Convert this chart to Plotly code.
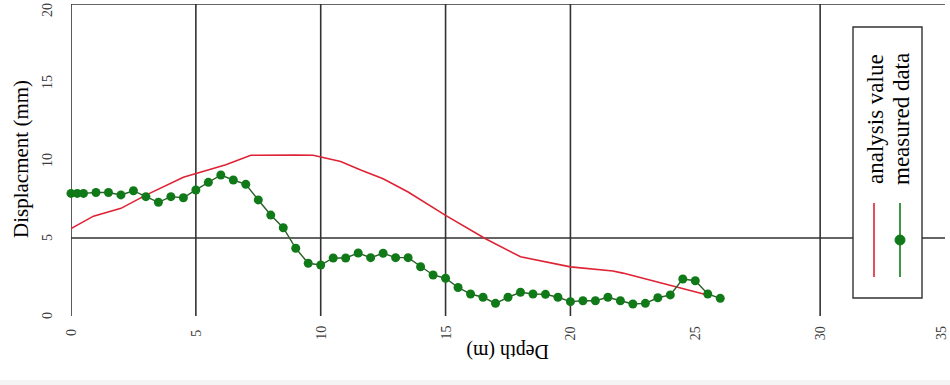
import plotly.graph_objects as go

# Analysis result along depth
analysis_depth = [0.0, 0.9, 2.0, 3.0, 4.5, 5.0, 6.2, 7.2, 8.0, 9.0, 9.7, 10.8, 11.6, 12.5,
                  13.5, 15.0, 16.6, 18.0, 20.0, 21.7, 22.1, 24.1, 25.3, 25.6]
analysis_disp = [5.6, 6.4, 6.9, 7.75, 8.9, 9.15, 9.7, 10.3, 10.32, 10.32, 10.3, 9.9, 9.36, 8.8,
                 7.95, 6.45, 4.95, 3.8, 3.15, 2.88, 2.75, 1.9, 1.4, 1.3]

# Inclinometer readings
measured_depth = [0.0, 0.25, 0.5, 1.0, 1.5, 2.0, 2.5, 3.0, 3.5, 4.0, 4.5, 5.0, 5.5, 6.0, 6.5,
                  7.0, 7.5, 8.0, 8.5, 9.0, 9.5, 10.0, 10.5, 11.0, 11.5, 12.0, 12.5, 13.0,
                  13.5, 14.0, 14.5, 15.0, 15.5, 16.0, 16.5, 17.0, 17.5, 18.0, 18.5, 19.0,
                  19.5, 20.0, 20.5, 21.0, 21.5, 22.0, 22.5, 23.0, 23.5, 24.0, 24.5, 25.0,
                  25.5, 26.0]
measured_disp = [7.86, 7.86, 7.86, 7.92, 7.92, 7.76, 8.03, 7.65, 7.29, 7.65, 7.58, 8.08, 8.57,
                 9.04, 8.72, 8.44, 7.44, 6.47, 5.66, 4.34, 3.38, 3.27, 3.72, 3.72, 4.04,
                 3.74, 4.02, 3.74, 3.74, 3.16, 2.63, 2.42, 1.83, 1.41, 1.2, 0.81, 1.2, 1.52,
                 1.41, 1.39, 1.2, 0.92, 0.98, 0.98, 1.2, 0.98, 0.77, 0.81, 1.17, 1.35, 2.37,
                 2.26, 1.41, 1.13]

x_ticks = [0, 5, 10, 15, 20, 25, 30, 35]
y_ticks = [0, 5, 10, 15, 20]
grid_x = [0, 5, 10, 15, 20, 30]
grid_y = [5, 20]

series_names = ["analysis value", "measured data"]
RED = "rgb(222,35,52)"
GREEN = "rgb(16,122,24)"
LINE = "rgb(50,50,50)"
FONT = "Liberation Serif"
TICK_FONT = dict(family=FONT, size=14, color="rgb(60,60,60)")

fig = go.Figure()

fig.add_trace(go.Scatter(
    x=analysis_depth, y=analysis_disp, mode="lines", name=series_names[0],
    line=dict(color=RED, width=1.6), showlegend=False, cliponaxis=False,
))
fig.add_trace(go.Scatter(
    x=measured_depth, y=measured_disp, mode="lines+markers", name=series_names[1],
    line=dict(color="rgb(40,95,40)", width=1.4),
    marker=dict(color=GREEN, size=9, symbol="circle"),
    showlegend=False, cliponaxis=False,
))

shapes = []
# frame / grid lines
for gx in grid_x:
    shapes.append(dict(type="line", xref="x", yref="y", x0=gx, x1=gx, y0=0, y1=20,
                       line=dict(color=LINE, width=1.6), layer="below"))
for gy in grid_y:
    shapes.append(dict(type="line", xref="x", yref="y", x0=0, x1=35, y0=gy, y1=gy,
                       line=dict(color=LINE, width=1.6), layer="below"))

# helpers: pixel position -> plot-area paper fraction
W, H = 874.0, 312.0
def px(xp):
    return (xp - 71) / W
def py(yp):
    return (316 - yp) / H

# legend box (rotated layout)
shapes.append(dict(type="rect", xref="paper", yref="paper",
                   x0=px(853), x1=px(922), y0=py(298), y1=py(27),
                   line=dict(color=LINE, width=1.4), fillcolor="white", layer="above"))
shapes.append(dict(type="line", xref="paper", yref="paper",
                   x0=px(874), x1=px(874), y0=py(277), y1=py(203),
                   line=dict(color=RED, width=1.6), layer="above"))
shapes.append(dict(type="line", xref="paper", yref="paper",
                   x0=px(900), x1=px(900), y0=py(277), y1=py(203),
                   line=dict(color=GREEN, width=1.6), layer="above"))
shapes.append(dict(type="circle", xref="paper", yref="paper",
                   xsizemode="pixel", ysizemode="pixel",
                   xanchor=px(900), yanchor=py(240),
                   x0=-5, x1=5, y0=-5, y1=5,
                   line=dict(color=GREEN, width=1), fillcolor=GREEN, layer="above"))
# faint strip along the bottom edge
shapes.append(dict(type="rect", xref="paper", yref="paper",
                   x0=px(0), x1=px(950), y0=py(385), y1=py(380),
                   line=dict(width=0), fillcolor="rgb(244,244,244)", layer="below"))

annotations = [
    dict(text=series_names[0], xref="paper", yref="paper", x=px(875), y=py(119),
         textangle=-90, showarrow=False, font=dict(family=FONT, size=23, color="black"),
         xanchor="center", yanchor="middle"),
    dict(text=series_names[1], xref="paper", yref="paper", x=px(901), y=py(119),
         textangle=-90, showarrow=False, font=dict(family=FONT, size=23, color="black"),
         xanchor="center", yanchor="middle"),
    dict(text="Displacment (mm)", xref="paper", yref="paper", x=px(21), y=py(159),
         textangle=-90, showarrow=False, font=dict(family=FONT, size=21, color="black"),
         xanchor="center", yanchor="middle"),
    dict(text="Depth (m)", xref="paper", yref="paper", x=px(508), y=py(352),
         textangle=180, showarrow=False, font=dict(family=FONT, size=20, color="black"),
         xanchor="center", yanchor="middle"),
]

# rotated tick labels; the outermost ones are nudged inward to stay on the canvas
for v in x_ticks:
    annotations.append(dict(text=str(v), xref="x", yref="paper", x=v, y=py(333),
                            xshift=-4 if v == x_ticks[-1] else 0,
                            textangle=-90, showarrow=False, font=TICK_FONT,
                            xanchor="center", yanchor="middle"))
for v in y_ticks:
    annotations.append(dict(text=str(v), xref="paper", yref="y", x=px(47), y=v,
                            yshift=-6 if v == y_ticks[-1] else 0,
                            textangle=-90, showarrow=False, font=TICK_FONT,
                            xanchor="center", yanchor="middle"))

fig.update_layout(
    width=950, height=385,
    margin=dict(l=71, r=5, t=4, b=69),
    paper_bgcolor="white", plot_bgcolor="white",
    shapes=shapes, annotations=annotations,
    xaxis=dict(range=[0, 35], showticklabels=False, showgrid=False,
               zeroline=False, showline=False, ticks=""),
    yaxis=dict(range=[0, 20], showticklabels=False, showgrid=False,
               zeroline=False, showline=False, ticks=""),
)

fig.write_html("out.html")
